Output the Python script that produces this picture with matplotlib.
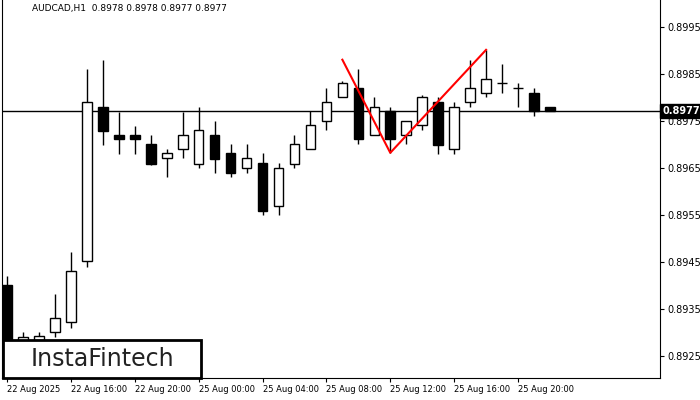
import matplotlib
matplotlib.use("Agg")
import matplotlib.pyplot as plt
from matplotlib.patches import Rectangle

opens  = [0.89401,0.8928,0.89284,0.89301,0.89322,0.89452,0.89780,0.89720,0.89720,0.89701,0.89671,0.89690,0.89659,0.89720,0.89682,0.89650,0.89661,0.89569,0.89659,0.89690,0.89750,0.89801,0.89820,0.89720,0.89771,0.89720,0.89741,0.89790,0.89690,0.89790,0.89810,0.89831,0.89820,0.89810,0.89780]
closes = [0.89220,0.8929,0.89293,0.89331,0.89431,0.89790,0.89729,0.89712,0.89712,0.89659,0.89682,0.89720,0.89731,0.89669,0.89639,0.89671,0.89559,0.89650,0.89701,0.89741,0.89790,0.89831,0.89712,0.89780,0.89712,0.89750,0.89801,0.89699,0.89780,0.89820,0.89840,0.89831,0.89820,0.89770,0.89771]
highs  = [0.89420,0.8930,0.89301,0.89382,0.89471,0.89861,0.89880,0.89769,0.89740,0.89720,0.89690,0.89769,0.89780,0.89750,0.89701,0.89701,0.89682,0.89661,0.89720,0.89770,0.89820,0.89835,0.89861,0.89801,0.89780,0.89750,0.89805,0.89801,0.89790,0.89880,0.89900,0.89870,0.89830,0.89820,0.89780]
lows   = [0.89200,0.8926,0.89270,0.89290,0.89310,0.89440,0.89699,0.89680,0.89680,0.89655,0.89630,0.89670,0.89650,0.89640,0.89630,0.89640,0.89550,0.89550,0.89650,0.89690,0.89730,0.89801,0.89700,0.89720,0.89682,0.89700,0.89730,0.89680,0.89680,0.89780,0.89800,0.89810,0.89780,0.89760,0.89770]
pattern_idx = [21, 24, 30]
pattern_px = [0.89880, 0.89682, 0.89901]
tick_idx = [0, 4, 8, 12, 16, 20, 24, 28, 32]
tick_labels = ["22 Aug 2025","22 Aug 16:00","22 Aug 20:00","25 Aug 00:00","25 Aug 04:00",
               "25 Aug 08:00","25 Aug 12:00","25 Aug 16:00","25 Aug 20:00"]
yticks = [0.8925,0.8935,0.8945,0.8955,0.8965,0.8975,0.8985,0.8995]
last = 0.8977

fig = plt.figure(figsize=(7,4), dpi=100)
ax = fig.add_axes([0.003, 0.055, 0.94, 0.945])
ax.set_xlim(-0.3125, 40.9)
ax.set_ylim(0.89203, 0.90007)
w = 0.6
for i,(o,c,h,l) in enumerate(zip(opens,closes,highs,lows)):
    ax.vlines(i, l, h, color='black', lw=1, zorder=2)
    bot, top = min(o,c), max(o,c)
    fc = 'white' if c >= o else 'black'
    ax.add_patch(Rectangle((i-w/2, bot), w, max(top-bot, 0.000005), facecolor=fc, edgecolor='black', lw=1, zorder=3))
ax.axhline(last, color='black', lw=1, zorder=1)
ax.plot(pattern_idx, pattern_px, color='red', lw=1.5, zorder=4)

ax.yaxis.tick_right()
ax.set_yticks(yticks)
ax.set_yticklabels([f"{v:.4f}" for v in yticks], fontsize=7)
ax.set_xticks(tick_idx)
ax.set_xticklabels(tick_labels, fontsize=6, ha='left')
ax.tick_params(axis='x', length=3, pad=2)
ax.tick_params(axis='y', length=3, pad=2)
ax.spines['top'].set_visible(False)
ax.text(1.003, last, "0.8977", transform=ax.get_yaxis_transform(), fontsize=7, color='white',
        weight='bold', va='center', ha='left', bbox=dict(facecolor='black', edgecolor='black', pad=1.5))
ax.text(0.045, 0.99, "AUDCAD,H1  0.8978 0.8978 0.8977 0.8977", transform=ax.transAxes, fontsize=6.5, va='top')
fig.patches.append(Rectangle((3/700, 22/400), 198/700, 38/400, transform=fig.transFigure,
                             facecolor='white', edgecolor='black', lw=2, zorder=10))
fig.text(102/700, 41/400, "InstaFintech", fontsize=17, ha='center', va='center', color='#222222', zorder=11)
fig.savefig("out.png", dpi=100)
